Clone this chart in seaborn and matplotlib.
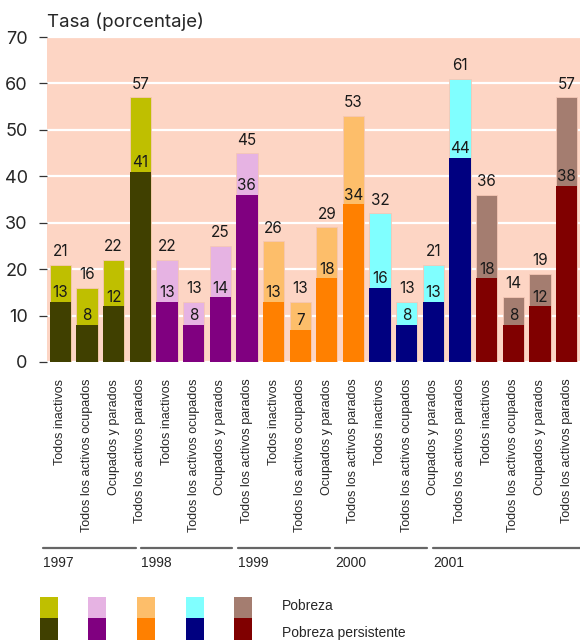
import matplotlib
matplotlib.use("Agg")
import matplotlib.pyplot as plt
from matplotlib.patches import Rectangle
from matplotlib.lines import Line2D
import seaborn as sns
import pandas as pd

years = ["1997", "1998", "1999", "2000", "2001"]
categories = ["Todos inactivos", "Todos los activos ocupados",
              "Ocupados y parados", "Todos los activos parados"]
pobreza = [
    [21, 16, 22, 57],
    [22, 13, 25, 45],
    [26, 13, 29, 53],
    [32, 13, 21, 61],
    [36, 14, 19, 57],
]
persistente = [
    [13, 8, 12, 41],
    [13, 8, 14, 36],
    [13, 7, 18, 34],
    [16, 8, 13, 44],
    [18, 8, 12, 38],
]
light_colors = ["#BFBF00", "#E6B3E3", "#FDBE6A", "#80FFFF", "#A47D70"]
dark_colors = ["#404000", "#800080", "#FF8000", "#000080", "#800000"]

rows = []
for yi, y in enumerate(years):
    for ci, c in enumerate(categories):
        rows.append({"key": f"{y}|{c}", "year": y, "cat": c,
                     "pobreza": pobreza[yi][ci],
                     "persistente": persistente[yi][ci],
                     "light": light_colors[yi], "dark": dark_colors[yi]})
df = pd.DataFrame(rows)
order = list(df["key"])

sns.set_theme(style="white")
plt.rcParams["font.family"] = ["Liberation Sans", "DejaVu Sans"]
NUM_FONT = ["Inter", "DejaVu Sans"]

W, H = 580, 641
fig = plt.figure(figsize=(W / 100, H / 100), dpi=100)
ax = fig.add_axes([47 / W, 1 - 362 / H, 533 / W, 325 / H])
ax.set_facecolor("#FDD5C4")

sns.barplot(data=df, x="key", y="pobreza", hue="key", order=order,
            hue_order=order, palette=dict(zip(df["key"], df["light"])),
            legend=False, width=0.8, ax=ax, saturation=1, linewidth=0.6,
            edgecolor="#F5C7B5", zorder=2)
sns.barplot(data=df, x="key", y="persistente", hue="key", order=order,
            hue_order=order, palette=dict(zip(df["key"], df["dark"])),
            legend=False, width=0.8, ax=ax, saturation=1, linewidth=0,
            zorder=3)

ax.set_ylim(0, 70)
ax.set_xlim(-0.5, len(order) - 0.5)
ax.set_yticks(range(0, 71, 10))
ax.yaxis.grid(True, color="white", linewidth=1.6, zorder=1)
ax.set_axisbelow(True)
for s in ax.spines.values():
    s.set_visible(False)
ax.tick_params(axis="y", left=True, length=6, width=0.9, color="#333333",
               labelsize=13, pad=8)
for t in ax.get_yticklabels():
    t.set_family(NUM_FONT)
ax.set_xticks(range(len(order)))
ax.set_xticklabels(df["cat"], rotation=90, fontsize=9, va="top")
ax.tick_params(axis="x", bottom=False, pad=6)
ax.set_xlabel("")
ax.set_ylabel("")

for i, r in df.iterrows():
    ax.annotate(str(r["pobreza"]), (i, r["pobreza"]), xytext=(0, 4),
                textcoords="offset points", ha="center", va="bottom",
                fontsize=11, family=NUM_FONT, color="#1a1a1a", zorder=5)
    ax.annotate(str(r["persistente"]), (i, r["persistente"]), xytext=(0, 1),
                textcoords="offset points", ha="center", va="bottom",
                fontsize=11, family=NUM_FONT, color="#1a1a1a", zorder=5)

fig.text(47 / W, 1 - 22 / H, "Tasa (porcentaje)", fontsize=13.5,
         family=NUM_FONT, va="center", ha="left")

# year group rules and labels
starts = [43, 141, 238, 335, 433]
ends = [136, 232, 330, 427, 580]
for y, x0, x1 in zip(years, starts, ends):
    fig.add_artist(Line2D([x0 / W, x1 / W], [1 - 548 / H] * 2,
                          color="#666666", linewidth=1.6))
    fig.text(x0 / W, 1 - 563 / H, y, fontsize=10, va="center", ha="left")

# legend swatches
for lx, lc, dc in zip([40, 88, 137, 186, 234], light_colors, dark_colors):
    fig.add_artist(Rectangle((lx / W, 1 - 618 / H), 18 / W, 21 / H,
                             facecolor=lc, edgecolor="none"))
    fig.add_artist(Rectangle((lx / W, 1 - 640 / H), 18 / W, 22 / H,
                             facecolor=dc, edgecolor="none"))
fig.text(282 / W, 1 - 606 / H, "Pobreza", fontsize=10, va="center", ha="left")
fig.text(282 / W, 1 - 633 / H, "Pobreza persistente", fontsize=10,
         va="center", ha="left")

fig.savefig("out.png", dpi=100)
